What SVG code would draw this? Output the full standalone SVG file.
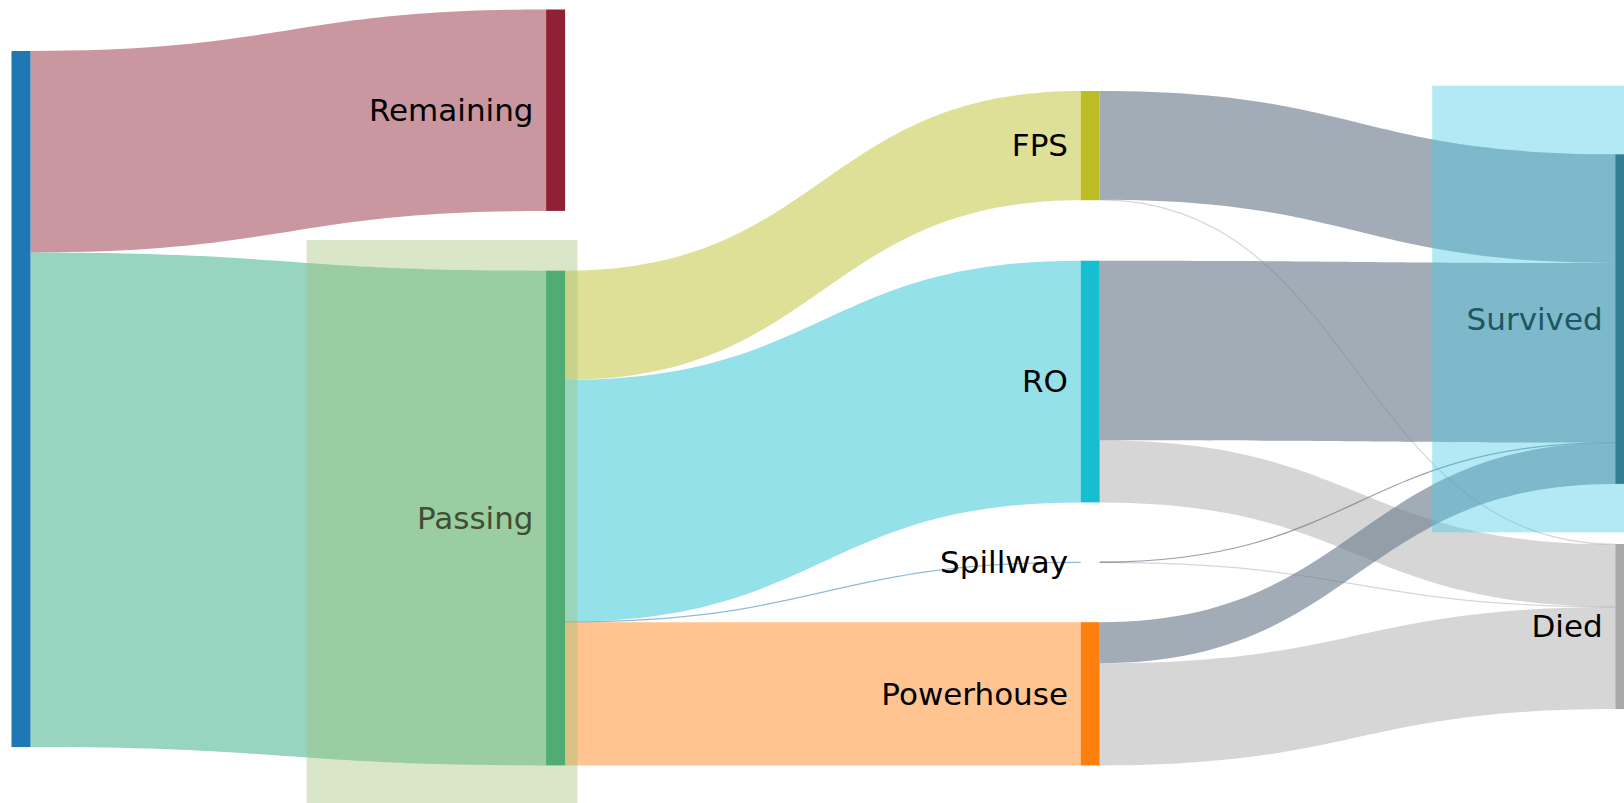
<svg xmlns="http://www.w3.org/2000/svg" width="1624" height="803" viewBox="0 0 1624 803">
<style>
.lbl{font-family:"DejaVu Sans",Verdana,sans-serif;font-size:31px;text-anchor:end;fill:#000}
.surv{fill:rgba(112,128,144,0.65)}
.died{fill:rgba(0,0,0,0.16)}
.thin{fill:none;stroke-width:1.2}
</style>
<rect width="1624" height="803" fill="#fff"/>
<g id="links">
<path d="M30.5,51 C288.3,51 288.3,9.5 546.1,9.5 L546.1,210.9 C288.3,210.9 288.3,252.4 30.5,252.4 Z" fill="rgba(143,32,54,0.47)"/>
<path d="M30.5,252.4 C288.3,252.4 288.3,270.7 546.1,270.7 L546.1,765.4 C288.3,765.4 288.3,747.1 30.5,747.1 Z" fill="rgba(25,162,115,0.45)"/>
<path d="M565.1,270.7 C822.9,270.7 822.9,91 1080.7,91 L1080.7,200.2 C822.9,200.2 822.9,379.9 565.1,379.9 Z" fill="rgba(188,189,34,0.47)"/>
<path d="M565.1,379.9 C822.9,379.9 822.9,260.7 1080.7,260.7 L1080.7,502.4 C822.9,502.4 822.9,621.6 565.1,621.6 Z" fill="rgba(23,190,207,0.46)"/>
<path class="thin" d="M565.1,621.9 C822.9,621.9 822.9,562.3 1080.7,562.3" stroke="rgba(31,119,180,0.5)"/>
<path d="M565.1,622.2 L1080.7,622.2 L1080.7,765.4 L565.1,765.4 Z" fill="rgba(255,127,14,0.46)"/>
<path class="surv" d="M1099.7,91 C1357.5,91 1357.5,154.3 1615.3,154.3 L1615.3,263 C1357.5,263 1357.5,199.7 1099.7,199.7 Z"/>
<path class="thin" d="M1099.7,199.95 C1357.5,199.95 1357.5,544.25 1615.3,544.25" stroke="rgba(0,0,0,0.16)"/>
<path class="surv" d="M1099.7,260.7 C1357.5,260.7 1357.5,263 1615.3,263 L1615.3,442.5 C1357.5,442.5 1357.5,440.2 1099.7,440.2 Z"/>
<path class="died" d="M1099.7,440.2 C1357.5,440.2 1357.5,544.5 1615.3,544.5 L1615.3,606.7 C1357.5,606.7 1357.5,502.4 1099.7,502.4 Z"/>
<path class="thin" d="M1099.7,562.15 C1357.5,562.15 1357.5,442.65 1615.3,442.65" stroke="rgba(112,128,144,0.75)"/>
<path class="thin" d="M1099.7,562.45 C1357.5,562.45 1357.5,606.85 1615.3,606.85" stroke="rgba(0,0,0,0.16)"/>
<path class="surv" d="M1099.7,622.2 C1357.5,622.2 1357.5,442.8 1615.3,442.8 L1615.3,483.9 C1357.5,483.9 1357.5,663.3 1099.7,663.3 Z"/>
<path class="died" d="M1099.7,663.3 C1357.5,663.3 1357.5,607 1615.3,607 L1615.3,709.1 C1357.5,709.1 1357.5,765.4 1099.7,765.4 Z"/>
</g>
<g id="node-source"><rect x="11.5" y="51" width="19" height="696.1" fill="#1f77b4"/></g>
<g id="node-remaining"><rect x="546.1" y="9.5" width="19" height="201.4" fill="#8f2035"/><text class="lbl" x="533.5" y="121">Remaining</text></g>
<g id="node-passing"><rect x="546.1" y="270.7" width="19" height="494.7" fill="#199f72"/><text class="lbl" x="533.5" y="528.8">Passing</text></g>
<g id="node-fps"><rect x="1080.7" y="91" width="19" height="109.2" fill="#bcbd22"/><text class="lbl" x="1068" y="156.4">FPS</text></g>
<g id="node-ro"><rect x="1080.7" y="260.7" width="19" height="241.7" fill="#17becf"/><text class="lbl" x="1068" y="392.3">RO</text></g>
<g id="node-spillway"><text class="lbl" x="1068" y="573.1">Spillway</text></g>
<g id="node-powerhouse"><rect x="1080.7" y="622.2" width="19" height="143.2" fill="#ff7f0e"/><text class="lbl" x="1068" y="704.6">Powerhouse</text></g>
<g id="node-survived"><rect x="1615.3" y="154.3" width="19" height="329.6" fill="#244859"/><text class="lbl" x="1602.7" y="329.9">Survived</text></g>
<g id="node-died"><rect x="1615.3" y="544" width="19" height="165.1" fill="#a9a9a9"/><text class="lbl" x="1602.7" y="637.3">Died</text></g>
<g id="highlights">
<rect x="306.6" y="240" width="270.9" height="563" fill="rgba(162,192,117,0.4)"/>
<rect x="1432.2" y="85.7" width="200" height="446.6" fill="rgba(74,203,229,0.42)"/>
</g>
</svg>
